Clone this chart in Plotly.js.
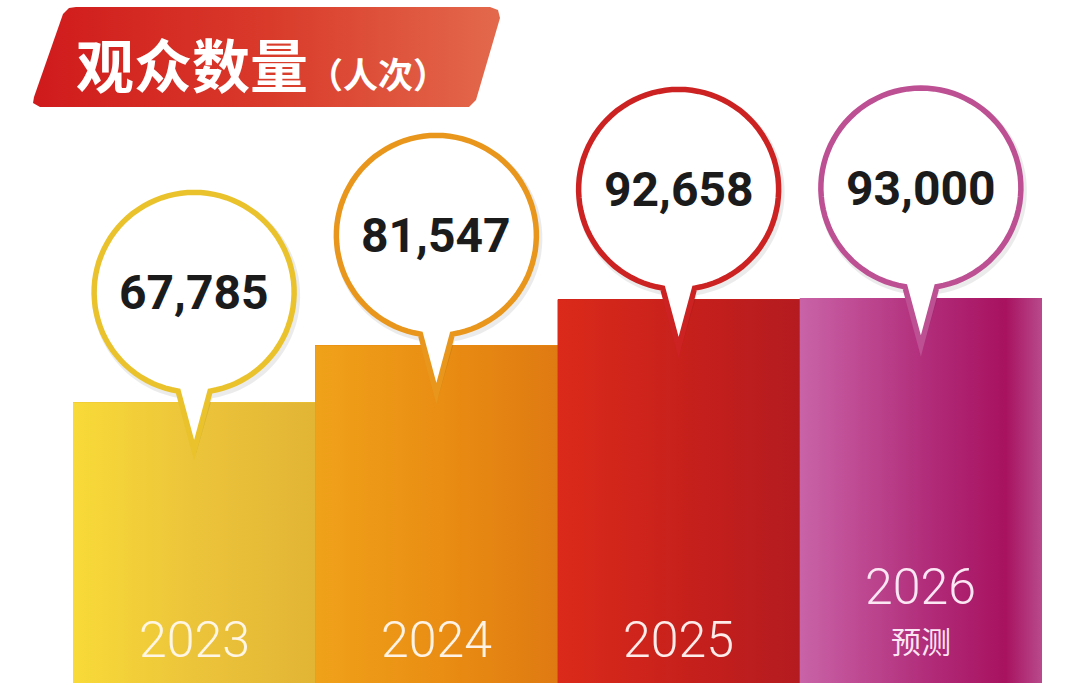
<!DOCTYPE html>
<html><head><meta charset="utf-8">
<script src="https://cdn.plot.ly/plotly-3.0.1.min.js"></script>
<style>html,body{margin:0;padding:0;background:#fff}#chart{width:1080px;height:689px}</style>
</head><body><div id="chart"></div>
<script>
// ---- data ----
const categories = ['2023', '2024', '2025', '2026'];
const notes = ['', '', '', '预测'];
const visitors = [67785, 81547, 92658, 93000];
const titleMain = '观众数量';
const titleUnit = '（人次）';

// ---- styles ----
const barColors = ['#eec433', '#e8880f', '#cc1f1a', '#b8337f'];
const barGradients = [
  [[0, '#f8da38'], [0.5, '#ecc43a'], [1, '#e2b535']],
  [[0, '#f0a21a'], [0.6, '#e88a12'], [1, '#df7a12']],
  [[0, '#db2a1a'], [0.6, '#c41f1c'], [1, '#b41b20']],
  [[0, '#c963a7'], [0.55, '#b02a78'], [0.85, '#a8125f'], [1, '#b84a8c']]
];
const bubbleColors = ['#e9c22c', '#e8961c', '#cc2222', '#bd4f93'];
const yearColors = ['#fff6e6', '#fff3e6', '#fdecea', '#fbe6f3'];

const idx = categories.map((c, i) => i);
const traces = [];

traces.push({
  type: 'bar', x: idx, y: visitors, width: 1,
  marker: {color: barColors, line: {width: 0}},
  hoverinfo: 'skip', showlegend: false
});

idx.forEach(i => {
  const v = visitors[i];
  traces.push({
    type: 'scatter', mode: 'lines',
    x: [i - 0.5, i + 0.5, i + 0.5, i - 0.5, i - 0.5],
    y: [0, 0, v, v, 0],
    fill: 'toself',
    fillgradient: {type: 'horizontal', colorscale: barGradients[i]},
    line: {width: 0, color: 'rgba(0,0,0,0)'},
    hoverinfo: 'skip', showlegend: false
  });
});

// banner (pixel overlay axes)
const bx = [76, 490, 498, 500, 476, 469, 40, 33, 34, 63, 69, 76];
const by = [7, 7, 10, 18, 100, 107, 107, 103, 97, 14, 8, 7];
traces.push({
  type: 'scatter', mode: 'lines', xaxis: 'x2', yaxis: 'y2',
  x: bx, y: by, fill: 'toself',
  fillgradient: {type: 'horizontal', colorscale: [[0, '#d01a1c'], [0.5, '#d93a2a'], [1, '#e3694c']]},
  line: {width: 0, color: 'rgba(0,0,0,0)'},
  hoverinfo: 'skip', showlegend: false
});

// bubble geometry (pixels, y up, relative to bar top)
const R = 100, C = 110, TIP = 48, HALF = 16;
function bubblePath(r, dx, dy) {
  const th = Math.asin(HALF / r);
  const a0 = -Math.PI / 2 + th, a1 = 3 * Math.PI / 2 - th;
  const n = 90, pts = [];
  for (let k = 0; k <= n; k++) {
    const a = a0 + (a1 - a0) * k / n;
    pts.push([dx + r * Math.cos(a), dy + C + r * Math.sin(a)]);
  }
  pts.push([dx, dy - TIP]);
  return 'M' + pts.map(p => p[0].toFixed(1) + ',' + p[1].toFixed(1)).join('L') + 'Z';
}

const shapes = [];
idx.forEach(i => {
  const base = {type: 'path', xref: 'x', yref: 'y', xsizemode: 'pixel', ysizemode: 'pixel',
    xanchor: i, yanchor: visitors[i], layer: 'above'};
  shapes.push(Object.assign({}, base, {path: bubblePath(R + 4, 2, -3), fillcolor: 'rgba(0,0,0,0.08)', line: {width: 0}}));
  shapes.push(Object.assign({}, base, {path: bubblePath(R, 0, 0), fillcolor: '#ffffff', line: {color: bubbleColors[i], width: 5.5}}));
});

const annotations = [];
idx.forEach(i => {
  annotations.push({
    x: i, y: visitors[i], xref: 'x', yref: 'y', yshift: C, showarrow: false,
    xanchor: 'center', yanchor: 'middle',
    text: visitors[i].toLocaleString('en-US'),
    font: {family: 'Roboto, "Liberation Sans", sans-serif', size: 48, weight: 700, color: '#1b1b1b'}
  });
  const hasNote = notes[i] !== '';
  annotations.push({
    x: i, y: 0, xref: 'x', yref: 'y', yshift: hasNote ? 96 : 43, showarrow: false,
    xanchor: 'center', yanchor: 'middle', text: categories[i],
    font: {family: 'Roboto, "DejaVu Sans", sans-serif', size: 50, weight: 300, color: yearColors[i]}
  });
  if (hasNote) {
    annotations.push({
      x: i, y: 0, xref: 'x', yref: 'y', yshift: 43, showarrow: false,
      xanchor: 'center', yanchor: 'middle', text: notes[i],
      font: {family: '"Noto Sans CJK SC", sans-serif', size: 30, color: yearColors[i]}
    });
  }
});

annotations.push({
  x: 74, y: 63, xref: 'x2', yref: 'y2', showarrow: false, xanchor: 'left', yanchor: 'middle',
  text: '<b>' + titleMain + '</b><span style="font-size:35px"><b>' + titleUnit + '</b></span>',
  font: {family: '"Noto Sans CJK SC", sans-serif', size: 58, color: '#ffffff'}
});

const layout = {
  width: 1080, height: 689,
  margin: {l: 0, r: 0, t: 0, b: 0, pad: 0},
  paper_bgcolor: '#ffffff', plot_bgcolor: 'rgba(0,0,0,0)',
  showlegend: false, bargap: 0,
  xaxis: {range: [-0.80134, 3.6569], visible: false, fixedrange: true},
  yaxis: {range: [-1450, 164985], visible: false, fixedrange: true},
  xaxis2: {overlaying: 'x', range: [0, 1080], visible: false, fixedrange: true},
  yaxis2: {overlaying: 'y', range: [689, 0], visible: false, fixedrange: true},
  shapes: shapes,
  annotations: annotations
};

Plotly.newPlot('chart', traces, layout, {staticPlot: true, displayModeBar: false});
</script>
</body></html>
